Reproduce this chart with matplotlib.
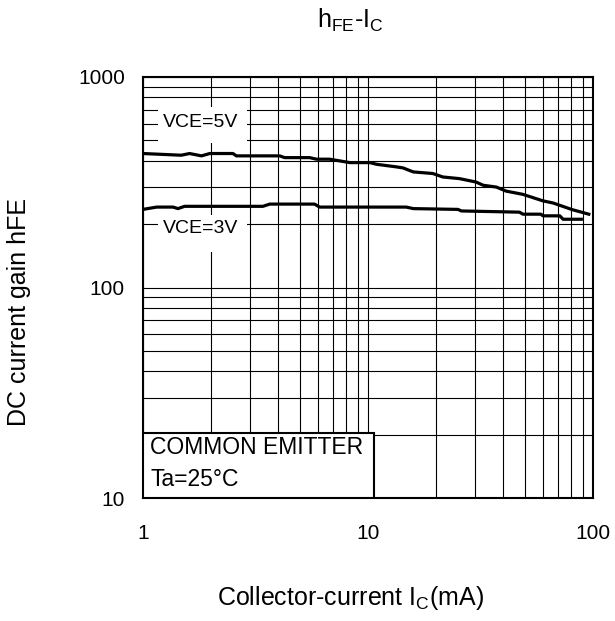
import matplotlib
matplotlib.use("Agg")
import matplotlib.pyplot as plt
from matplotlib.patches import Rectangle
from matplotlib.ticker import FixedLocator, LogLocator, NullFormatter, FuncFormatter

plt.rcParams['font.family'] = ['Liberation Sans', 'DejaVu Sans']
plt.rcParams['mathtext.fontset'] = 'custom'
plt.rcParams['mathtext.rm'] = 'Liberation Sans'

# hFE vs Ic
ic_5v = [1.0, 1.48, 1.61, 1.82, 1.98, 2.51, 2.60, 4.05, 4.26, 5.50, 5.90, 6.75, 8.30,
         10.2, 10.9, 13.4, 14.3, 15.9, 19.4, 21.5, 25.5, 30.2, 32.5, 37.2, 41.1, 48.8,
         59.9, 66.5, 81.2, 95.8]
hfe_5v = [433, 425, 433, 422, 433, 433, 422, 422, 414, 414, 407, 407, 392,
          392, 385, 374, 370, 354, 348, 335, 329, 317, 306, 300, 287, 277,
          258, 252, 234, 223]

ic_3v = [1.0, 1.15, 1.36, 1.43, 1.53, 3.41, 3.66, 5.79, 6.09, 14.8, 15.9, 25.1, 26.0,
         47.1, 48.8, 58.7, 59.9, 71.2, 73.6, 88.7]
hfe_3v = [235, 241, 241, 237, 243, 243, 249, 249, 241, 241, 237, 235, 231,
          228, 223, 223, 219, 219, 211, 211]

x_ticks = [1, 10, 100]
y_ticks = [10, 100, 1000]

fig = plt.figure(figsize=(6.15, 6.21), dpi=100)
ax = fig.add_axes([143/615, 1 - 498/621, 450/615, 421/621])

ax.plot(ic_5v, hfe_5v, color='black', lw=2.3, zorder=4)
ax.plot(ic_3v, hfe_3v, color='black', lw=2.3, zorder=4)

ax.set_xscale('log')
ax.set_yscale('log')
ax.set_xlim(1, 100)
ax.set_ylim(10, 1000)
ax.xaxis.set_major_locator(FixedLocator(x_ticks))
ax.yaxis.set_major_locator(FixedLocator(y_ticks))
ax.xaxis.set_minor_locator(LogLocator(base=10, subs=range(2, 10)))
ax.yaxis.set_minor_locator(LogLocator(base=10, subs=range(2, 10)))
ax.xaxis.set_minor_formatter(NullFormatter())
ax.yaxis.set_minor_formatter(NullFormatter())
ax.xaxis.set_major_formatter(FuncFormatter(lambda v, p: '%d' % v))
ax.yaxis.set_major_formatter(FuncFormatter(lambda v, p: '%d' % v))
ax.tick_params(which='both', length=0)
ax.tick_params(axis='x', labelsize=15, pad=19)
ax.tick_params(axis='y', labelsize=15, pad=13)

ax.set_axisbelow(True)
ax.grid(which='both', color='black', lw=0.8)
for s in ax.spines.values():
    s.set_linewidth(1.5)

# white patches behind the curve labels
ax.add_patch(Rectangle((0.033, 0.843), 0.198, 0.086, transform=ax.transAxes,
                       facecolor='white', edgecolor='none', zorder=2))
ax.add_patch(Rectangle((0.033, 0.584), 0.198, 0.088, transform=ax.transAxes,
                       facecolor='white', edgecolor='none', zorder=2))
ax.text(0.129, 0.893, 'VCE=5V', transform=ax.transAxes, ha='center', va='center',
        fontsize=14, zorder=3)
ax.text(0.129, 0.639, 'VCE=3V', transform=ax.transAxes, ha='center', va='center',
        fontsize=14, zorder=3)

# condition box
ax.add_patch(Rectangle((0, 0), 0.513, 0.154, transform=ax.transAxes,
                       facecolor='white', edgecolor='black', lw=1.5, zorder=5))
ax.text(0.016, 0.119, 'COMMON EMITTER', transform=ax.transAxes, ha='left', va='center',
        fontsize=16.5, zorder=6)
ax.text(0.016, 0.043, 'Ta=25°C', transform=ax.transAxes, ha='left', va='center',
        fontsize=16.5, zorder=6)

fig.text(350/615, 1 - 20/621, r'$\mathrm{h_{FE}}$-$\mathrm{I_C}$', ha='center', va='center', fontsize=18)
fig.text(350/615, 1 - 598/621, r'Collector-current $\mathrm{I_C}$(mA)', ha='center', va='center', fontsize=18)
fig.text(19/615, 1 - 312/621, 'DC current gain hFE', ha='center', va='center',
         rotation=90, fontsize=18)

fig.savefig('out.png', dpi=100)
